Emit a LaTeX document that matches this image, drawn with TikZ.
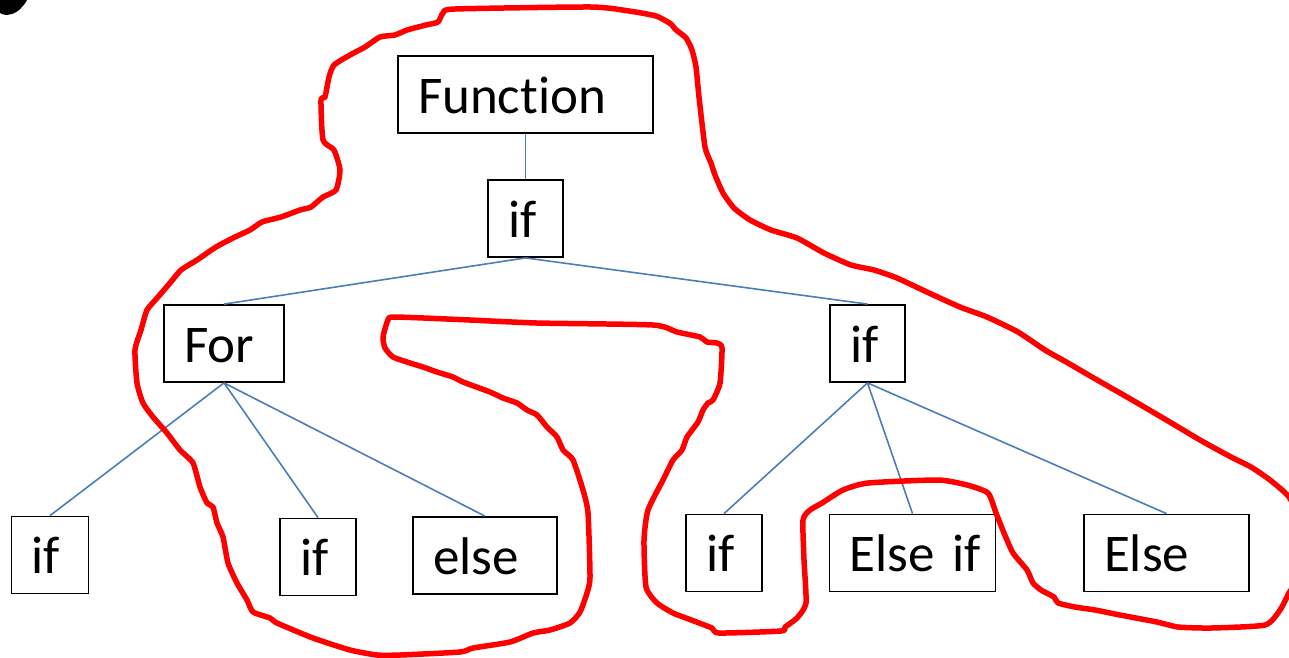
\documentclass[tikz,border=0pt]{standalone}
\usepackage{fontspec}
\setmainfont{Carlito}[Ligatures=NoCommon]
\definecolor{linkblue}{RGB}{74,126,187}
\definecolor{penred}{RGB}{255,0,0}
\tikzset{
  treebox/.style={draw=black, line width=1.8pt, fill=white, inner xsep=20pt, inner ysep=0pt,
    text height=37pt, text depth=0pt, minimum height=77pt, align=left,
    font=\fontsize{53}{60}\selectfont},
  link/.style={draw=linkblue, line width=1.6pt},
  pen/.style={draw=penred, line width=5.5pt, line join=round, line cap=round}
}
\begin{document}
\begin{tikzpicture}[x=1pt,y=-1pt]
\useasboundingbox (0,0) rectangle (1289,657);
\fill[white] (0,0) rectangle (1289,657);
\clip (0,0) rectangle (1289,657);
% partial glyph at the top-left corner
\fill[black] (0,0) -- (0,13) .. controls (6,17) and (16,14) .. (21,8) .. controls (24,5) and (26,2) .. (27,0) -- cycle;

% boxes
\node[treebox, text width=215pt] (fn)     at (525.5,94.5) {\mbox{Function}};
\node[treebox, text width=35pt]  (if0)    at (525.5,218.5) {\mbox{if}};
\node[treebox, text width=80pt]  (for)    at (224,343.5) {\mbox{For}};
\node[treebox, text width=35pt]  (ifR)    at (867.5,343.5) {\mbox{if}};
\node[treebox, text width=37pt]  (ifA)    at (50,555) {\mbox{if}};
\node[treebox, text width=36pt]  (ifB)    at (318,557) {\mbox{if}};
\node[treebox, text width=104pt] (els)    at (485,555.5) {\mbox{else}};
\node[treebox, text width=36pt]  (ifC)    at (724,553) {\mbox{if}};
\node[treebox, text width=126pt] (elif)   at (912.5,553) {\mbox{Else if}};
\node[treebox, text width=125pt] (Els)    at (1166.5,553) {\mbox{Else}};

% connectors
\draw[link] (fn.south) -- (if0.north);
\draw[link] (if0.south) -- (for.north);
\draw[link] (if0.south) -- (ifR.north);
\draw[link] (for.south) -- (ifA.north);
\draw[link] (for.south) -- (ifB.north);
\draw[link] (for.south) -- (els.north);
\draw[link] (ifR.south) -- (ifC.north);
\draw[link] (ifR.south) -- (elif.north);
\draw[link] (ifR.south) -- (Els.north);

% red freehand outline
\draw[pen] plot[smooth cycle, tension=0.35] coordinates {
(455,9) (591,7) (629,11) (656,16) (671,24) (675,29) (686,38) (692,50) (696,67) (699,97)
(705,147) (711,163) (715,175) (723,193) (734,208) (750,220) (771,230) (797,238) (824,253)
(851,265) (874,270) (897,278) (929,293) (960,307) (987,317) (1018,332) (1045,350) (1068,363)
(1092,377) (1127,397) (1163,418) (1200,440) (1231,457) (1251,467) (1270,480) (1289,497)
(1302,525) (1302,570) (1289,593) (1280,610) (1265,625) (1211,628) (1178,627) (1157,622)
(1120,615) (1095,610) (1075,607) (1058,603) (1054,597) (1041,590) (1033,583) (1027,570)
(1013,553) (1004,533) (996,513) (988,493) (967,485) (938,480) (868,483) (843,490) (822,503)
(810,510) (803,520) (804,560) (806,603) (797,618) (785,627) (781,631) (719,633) (712,628)
(686,618) (673,613) (657,603) (646,587) (644,540) (648,510) (663,480) (673,460) (682,450)
(687,437) (698,422) (703,410) (708,403) (713,400) (720,383) (722,348) (717,343) (707,342)
(700,337) (677,332) (653,325) (537,323) (470,320) (395,317) (388,320) (383,337) (385,348)
(393,357) (410,363) (423,367) (437,372) (453,377) (463,382) (490,392) (503,398) (517,403)
(527,410) (537,415) (547,427) (557,437) (563,450) (573,460) (583,490) (588,513) (590,577)
(587,593) (580,612) (570,623) (550,630) (533,633) (510,642) (473,648) (460,652) (400,655)
(377,655) (350,650) (313,638) (277,623) (270,618) (253,612) (247,600) (237,583) (228,563)
(223,537) (217,523) (213,507) (207,503) (200,487) (193,463) (180,450) (167,433) (153,417)
(143,403) (137,383) (135,350) (141,330) (147,310) (158,297) (170,283) (181,270) (197,260)
(216,247) (235,237) (250,230) (262,222) (281,217) (300,210) (311,207) (323,197) (336,190)
(340,170) (334,150) (323,140) (321,100) (325,97) (329,77) (334,65) (350,55) (365,47)
(380,37) (395,35) (407,30) (426,25) (438,22) (443,13)
};
\end{tikzpicture}
\end{document}
